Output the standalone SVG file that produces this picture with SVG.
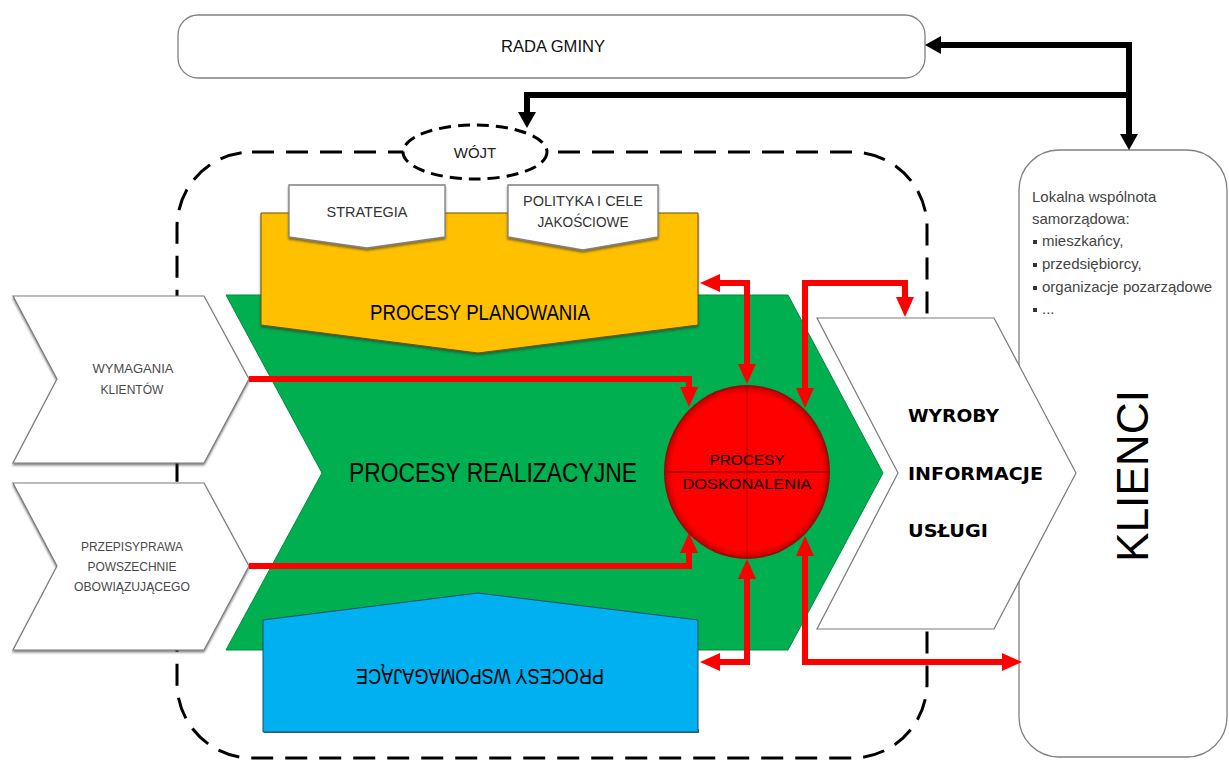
<svg xmlns="http://www.w3.org/2000/svg" width="1229" height="761" viewBox="0 0 1229 761">
<style>
text{font-family:"Liberation Sans",Arial,sans-serif;}
.chev{fill:#fff;stroke:#7a7a7a;stroke-width:1.2;}
.box{fill:#fff;stroke:#808080;stroke-width:1.3;}
.red{fill:none;stroke:#ff0000;stroke-width:6;stroke-linejoin:miter;}
.blk{fill:none;stroke:#000;stroke-width:6;stroke-linejoin:miter;}
.dash{fill:none;stroke:#000;stroke-width:3;stroke-dasharray:22 12;}
.small{font-size:12px;fill:#4a4a4a;text-anchor:middle;}
.bold{font-family:"DejaVu Sans",Verdana,sans-serif;font-weight:bold;font-size:18px;fill:#000;}
.list{font-size:15px;fill:#444;}
</style>
<defs>
<marker id="ra" markerUnits="userSpaceOnUse" markerWidth="20" markerHeight="18" refX="6" refY="9" orient="auto-start-reverse"><path d="M0,0 L20,9 L0,18 z" fill="#ff0000"/></marker>
<marker id="ba" markerUnits="userSpaceOnUse" markerWidth="16" markerHeight="18" refX="4" refY="9" orient="auto-start-reverse"><path d="M0,0 L16,9 L0,18 z" fill="#000"/></marker>
<radialGradient id="rg" cx="0.5" cy="0.5" r="0.5"><stop offset="0.9" stop-color="#ff0000"/><stop offset="0.97" stop-color="#d00000"/><stop offset="1" stop-color="#7a1010"/></radialGradient>
<filter id="sh" x="-5%" y="-5%" width="110%" height="120%"><feDropShadow dx="0" dy="2" stdDeviation="1" flood-color="#333" flood-opacity="0.6"/></filter>
</defs>

<g id="frame">
<rect class="dash" x="177" y="152" width="750" height="606" rx="75" ry="75"/>
</g>

<g id="wojt">
<ellipse cx="475" cy="152" rx="72" ry="27" fill="#fff" stroke="#000" stroke-width="3" stroke-dasharray="12 7"/>
<text x="475" y="158" font-size="15" text-anchor="middle" fill="#222">WÓJT</text>
</g>

<g id="klienci">
<rect x="1019" y="150" width="208" height="607" rx="40" ry="40" class="box"/>
<text class="list" x="1032" y="202">Lokalna wspólnota</text>
<text class="list" x="1032" y="224">samorządowa:</text>
<g fill="#333">
<rect x="1033" y="240" width="4" height="4"/>
<rect x="1033" y="263" width="4" height="4"/>
<rect x="1033" y="286" width="4" height="4"/>
<rect x="1033" y="308" width="4" height="4"/>
</g>
<text class="list" x="1042" y="246">mieszkańcy,</text>
<text class="list" x="1042" y="269">przedsiębiorcy,</text>
<text class="list" x="1042" y="292">organizacje pozarządowe</text>
<text class="list" x="1042" y="314">...</text>
<text x="0" y="0" font-size="44" text-anchor="middle" textLength="172" lengthAdjust="spacingAndGlyphs" fill="#000" transform="translate(1148 476) rotate(-90)">KLIENCI</text>
</g>

<g id="realizacja">
<polygon points="226,295 788,295 883,473 788,650 226,650 322,473" fill="#00b050" stroke="#008a3e" stroke-width="1"/>
<text x="0" y="0" font-size="28" text-anchor="middle" textLength="353" lengthAdjust="spacingAndGlyphs" fill="#000" transform="translate(493 482) scale(0.816 1)">PROCESY REALIZACYJNE</text>
</g>

<g id="planowanie">
<polygon points="261,213 698,213 698,325 478,353 261,325" fill="#ffc000" stroke="#6b5200" stroke-width="1" filter="url(#sh)"/>
<text x="480" y="320" font-size="22" text-anchor="middle" textLength="220" lengthAdjust="spacingAndGlyphs" fill="#000">PROCESY PLANOWANIA</text>
</g>

<g id="strategia">
<polygon points="289,185 445,185 445,237 367,248 289,237" class="box" filter="url(#sh)"/>
<text x="367" y="217" font-size="14" text-anchor="middle" textLength="81" lengthAdjust="spacingAndGlyphs" fill="#333">STRATEGIA</text>
</g>

<g id="polityka">
<polygon points="508,185 658,185 658,237 583,250 508,237" class="box" filter="url(#sh)"/>
<text x="583" y="206" font-size="14" text-anchor="middle" textLength="120" lengthAdjust="spacingAndGlyphs" fill="#333">POLITYKA I CELE</text>
<text x="583" y="227" font-size="14" text-anchor="middle" textLength="91" lengthAdjust="spacingAndGlyphs" fill="#333">JAKOŚCIOWE</text>
</g>

<g id="wspomagajace">
<rect x="264" y="729" width="435" height="4" fill="#606060"/>
<polygon points="263,620 478,593 698,620 698,732 263,732" fill="#00b0f0" stroke="#1c4f66" stroke-width="1"/>
<text x="480" y="685" font-size="22" text-anchor="middle" textLength="248" lengthAdjust="spacingAndGlyphs" fill="#000" transform="rotate(180 480 677)">PROCESY WSPOMAGAJĄCE</text>
</g>

<g id="wymagania">
<polygon points="13,296 204,296 249,379 204,463 13,463 57,379" class="chev" filter="url(#sh)"/>
<text class="small" x="133" y="373" textLength="81" lengthAdjust="spacingAndGlyphs">WYMAGANIA</text>
<text class="small" x="132" y="394" textLength="63" lengthAdjust="spacingAndGlyphs">KLIENTÓW</text>
</g>

<g id="przepisy">
<polygon points="13,483 204,483 249,566 204,650 13,650 57,566" class="chev" filter="url(#sh)"/>
<text class="small" x="132" y="551" textLength="102" lengthAdjust="spacingAndGlyphs">PRZEPISYPRAWA</text>
<text class="small" x="132" y="571" textLength="89" lengthAdjust="spacingAndGlyphs">POWSZECHNIE</text>
<text class="small" x="132" y="591" textLength="116" lengthAdjust="spacingAndGlyphs">OBOWIĄZUJĄCEGO</text>
</g>

<g id="wyroby">
<polygon points="817,318 994,318 1076,473 994,629 817,629 898,473" class="chev"/>
<text class="bold" x="908" y="422" textLength="91" lengthAdjust="spacingAndGlyphs">WYROBY</text>
<text class="bold" x="908" y="480" textLength="135" lengthAdjust="spacingAndGlyphs">INFORMACJE</text>
<text class="bold" x="908" y="537" textLength="80" lengthAdjust="spacingAndGlyphs">USŁUGI</text>
</g>

<g id="doskonalenie">
<ellipse cx="747" cy="472" rx="83" ry="87" fill="url(#rg)"/>
<line x1="665" y1="472" x2="829" y2="472" stroke="#b00000" stroke-width="2"/>
<line x1="747" y1="386" x2="747" y2="558" stroke="#b00000" stroke-width="1"/>
<text x="747" y="465" font-size="14" text-anchor="middle" textLength="75" lengthAdjust="spacingAndGlyphs" fill="#000">PROCESY</text>
<text x="747" y="489" font-size="14" text-anchor="middle" textLength="129" lengthAdjust="spacingAndGlyphs" fill="#000">DOSKONALENIA</text>
</g>

<g id="rada">
<rect x="178" y="15" width="747" height="63" rx="20" ry="20" class="box"/>
<text x="553" y="52" font-size="16" text-anchor="middle" textLength="104" lengthAdjust="spacingAndGlyphs" fill="#111">RADA GMINY</text>
</g>

<g id="connectors">
<path class="red" d="M249,379 H689 V393" marker-end="url(#ra)"/>
<path class="red" d="M249,566 H689 V547" marker-end="url(#ra)"/>
<path class="red" d="M714,283 H747 V370" marker-start="url(#ra)" marker-end="url(#ra)"/>
<path class="red" d="M714,662 H747 V573" marker-start="url(#ra)" marker-end="url(#ra)"/>
<path class="red" d="M805,394 V283 H905 V303" marker-start="url(#ra)" marker-end="url(#ra)"/>
<path class="red" d="M805,550 V662 H1008" marker-start="url(#ra)" marker-end="url(#ra)"/>
<path class="blk" d="M937,45 H1129 V138" marker-start="url(#ba)" marker-end="url(#ba)"/>
<path class="blk" d="M1129,95 H527 V116" marker-end="url(#ba)"/>
</g>
</svg>
